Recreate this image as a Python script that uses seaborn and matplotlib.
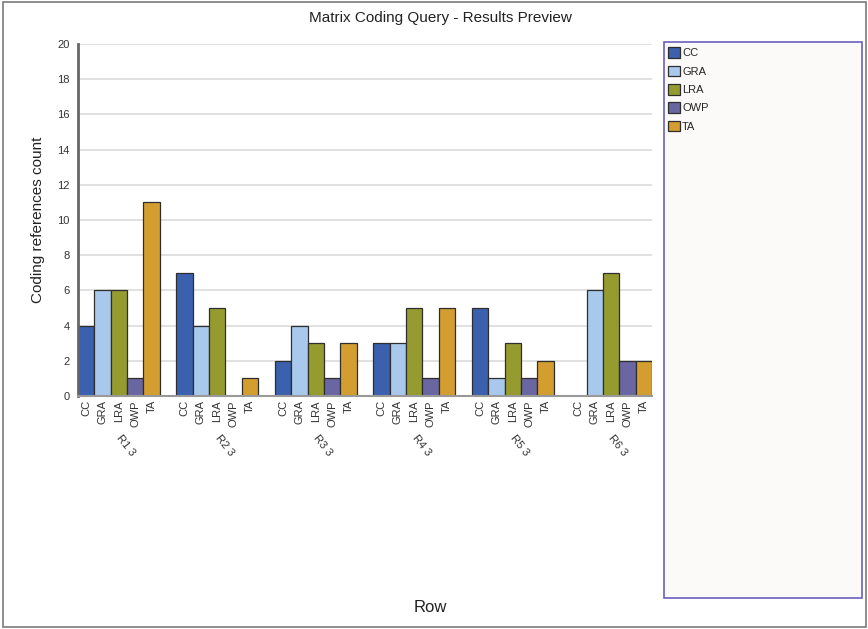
import matplotlib
matplotlib.use("Agg")
import matplotlib.pyplot as plt
from matplotlib.patches import Rectangle
from matplotlib.transforms import blended_transform_factory
import seaborn as sns
import pandas as pd

# Matrix coding query results: coding reference counts per row and code
rows = ["R1 3", "R2 3", "R3 3", "R4 3", "R5 3", "R6 3"]
codes = ["CC", "GRA", "LRA", "OWP", "TA"]
cc = [4, 7, 2, 3, 5, 0]
gra = [6, 4, 4, 3, 1, 6]
lra = [6, 5, 3, 5, 3, 7]
owp = [1, 0, 1, 1, 1, 2]
ta = [11, 1, 3, 5, 2, 2]
code_colors = ["#3a60ae", "#a9c9ec", "#969b2f", "#6a66a2", "#d39d2f"]
yticks = list(range(0, 21, 2))

series = {"CC": cc, "GRA": gra, "LRA": lra, "OWP": owp, "TA": ta}
df = pd.DataFrame(
    [(r, c, series[c][i]) for i, r in enumerate(rows) for c in codes],
    columns=["Row", "Code", "Count"],
)

sns.set_style("white")
plt.rcParams["font.family"] = ["Liberation Sans", "DejaVu Sans"]

fig = plt.figure(figsize=(8.68, 6.29), dpi=100)
W, H = 868, 629

# outer frame of the preview window
fig.patches.append(Rectangle((3 / W, 2 / H), 863 / W, 625 / H, transform=fig.transFigure,
                             fill=False, edgecolor="#7a7a7a", linewidth=1.2))

ax = fig.add_axes([78 / W, 1 - 396 / H, (652 - 78) / W, (396 - 44) / H])
width = 0.83
sns.barplot(data=df, x="Row", y="Count", hue="Code", hue_order=codes, order=rows,
            palette=code_colors, width=width, edgecolor="#2e2e2e", linewidth=0.9,
            saturation=1, ax=ax, legend=True)

ax.set_xlim(-width / 2, len(rows) - 1 + width / 2)
ax.set_ylim(0, 20)
ax.set_yticks(yticks)
ax.yaxis.grid(True, color="#dcdcdc", linewidth=1.2)
ax.set_axisbelow(True)
ax.tick_params(axis="y", length=0, labelsize=8, colors="#333333", pad=6)
ax.tick_params(axis="x", length=0, labelsize=8, colors="#333333", pad=3)
for s in ["top", "right"]:
    ax.spines[s].set_visible(False)
ax.spines["left"].set_color("#666666")
ax.spines["left"].set_linewidth(2)
ax.spines["bottom"].set_color("#999999")
ax.spines["bottom"].set_linewidth(1.5)

# one tick label per bar (code name), using the drawn bar centers
centers = []
for code, cont in zip(codes, ax.containers):
    for bar in cont:
        centers.append((bar.get_x() + bar.get_width() / 2, code))
centers.sort()
ax.set_xticks([c for c, _ in centers])
ax.set_xticklabels([n for _, n in centers], rotation=90, va="top")
ax.set_xlabel("")
ax.set_ylabel("Coding references count", fontsize=11, color="#222222", labelpad=9)

# row group labels below the code labels
trans = blended_transform_factory(ax.transData, ax.transAxes)
for i, r in enumerate(rows):
    ax.text(i + 0.07, -0.14, r, transform=trans, rotation=-52, ha="center", va="center",
            fontsize=8, color="#333333", rotation_mode="anchor")

fig.text(430 / W, 1 - 607 / H, "Row", ha="center", va="center", fontsize=12, color="#222222")
fig.text(440 / W, 1 - 18 / H, "Matrix Coding Query - Results Preview", ha="center",
         va="center", fontsize=11, color="#222222")

# legend panel
fig.patches.append(Rectangle((664 / W, 1 - 598 / H), (862 - 664) / W, (598 - 42) / H,
                             transform=fig.transFigure, facecolor="#fbfaf9",
                             edgecolor="#6a5fc0", linewidth=1.2))
handles, labels = ax.get_legend_handles_labels()
ax.get_legend().remove()
fig.legend(handles, labels, loc="upper left", bbox_to_anchor=(666 / W, 1 - 45 / H),
           frameon=False, fontsize=8, handlelength=1.1, handleheight=1.1,
           handletextpad=0.15, labelspacing=0.65, borderaxespad=0, borderpad=0.2)

fig.savefig("out.png", dpi=100)
